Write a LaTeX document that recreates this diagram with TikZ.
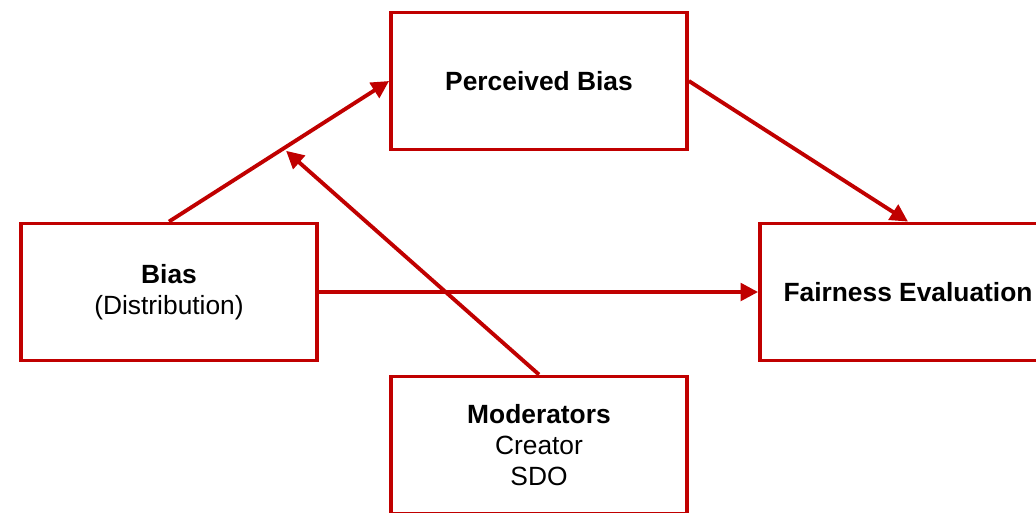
\documentclass[tikz,border=0pt]{standalone}
\usepackage{fontspec}
\setmainfont{Liberation Sans}
\usetikzlibrary{arrows.meta, positioning}
\definecolor{boxred}{RGB}{192,0,0}

\begin{document}
\begin{tikzpicture}[x=0.02cm, y=-0.02cm,
    block/.style={draw=boxred, line width=2.2pt, fill=white, minimum width=5.92cm,
        minimum height=2.74cm, align=center, font=\fontsize{15}{17.5}\selectfont},
    link/.style={draw=boxred, line width=2.2pt, -{Triangle[length=10pt, width=10pt]}}]
    % Canvas
    \useasboundingbox (0,0) rectangle (1036,512);

    % Boxes
    \node[block] (perceived) at (539, 81) {\textbf{Perceived Bias}};
    \node[block] (bias) at (169, 292) {\textbf{Bias}\\(Distribution)};
    \node[block] (fairness) at (908, 292) {\textbf{Fairness Evaluation}};
    \node[block] (moderators) at (539, 445) {\textbf{Moderators}\\Creator\\SDO};

    % Arrows
    \draw[link] (bias.north) -- coordinate[pos=0.52] (hit) (perceived.west);
    \draw[link] (perceived.east) -- (fairness.north);
    \draw[link] (bias.east) -- (fairness.west);
    \draw[link, shorten >=2pt] (moderators.north) -- (hit);
\end{tikzpicture}
\end{document}
